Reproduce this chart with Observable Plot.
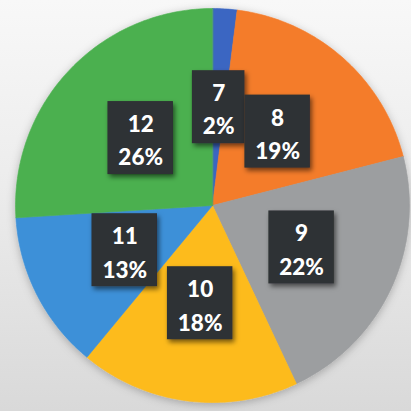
<!DOCTYPE html>
<html><head><meta charset="utf-8">
<script src="https://cdn.jsdelivr.net/npm/d3@7"></script>
<script src="https://cdn.jsdelivr.net/npm/@observablehq/plot@0.6"></script>
<style>
html,body{margin:0;padding:0;}
body{width:411px;height:411px;background:linear-gradient(#f8f8f8 0%,#ececec 45%,#d9d9d9 100%);overflow:hidden;}
</style></head><body><div id="chart"></div>
<script>
const categories = ["7","8","9","10","11","12"];
const percents = [2,19,22,18,13,26];
const colors = ["#3a66c2","#f47c2a","#9c9ea0","#fdbb1e","#3c90d8","#4cb050"];

const arcs = d3.pie().sort(null).value(d => d.value)(categories.map((c,i)=>({key:c, value:percents[i]})));
const slicePts = [];
for (const a of arcs) {
  const n = Math.max(2, Math.ceil((a.endAngle - a.startAngle) / (Math.PI/180)));
  slicePts.push({key:a.data.key, x:0, y:0});
  for (let k=0;k<=n;k++){
    const t = a.startAngle + (a.endAngle - a.startAngle) * k / n;
    slicePts.push({key:a.data.key, x:Math.sin(t), y:Math.cos(t)});
  }
}
const R = 197; // px per unit radius
const charW = ch => ch === "%" ? 19.5 : 13;
const labels = arcs.map(a => {
  const m = (a.startAngle + a.endAngle) / 2;
  const l1 = a.data.key, l2 = a.data.value + "%";
  const w = Math.max(...[l1,l2].map(s => [...s].reduce((t,c)=>t+charW(c),0))) + 20;
  return {key:l1, text:l1 + "\n" + l2, x:0.5*Math.sin(m), y:0.5*Math.cos(m), hw:w/2/R, hh:36.5/R};
});

const chart = Plot.plot({
  width: 411, height: 411,
  margin: 0,
  style: {background: "transparent", overflow: "visible"},
  x: {domain: [-212/R, 199/R], axis: null},
  y: {domain: [-206/R, 205/R], axis: null},
  color: {domain: categories, range: colors},
  marks: [
    Plot.line(slicePts, {x: "x", y: "y", z: "key", fill: "key", stroke: "key", strokeWidth: 0.6, curve: "linear-closed"}),
    Plot.rect(labels, {x1: d => d.x - d.hw, x2: d => d.x + d.hw, y1: d => d.y - d.hh, y2: d => d.y + d.hh, fill: "#2e3034"}),
    Plot.text(labels, {x: "x", y: "y", text: "text", fill: "white", fontSize: 22.5, fontWeight: 900, lineHeight: 1.48, fontFamily: "Lato, 'Open Sans', sans-serif"})
  ]
});
const svg = d3.select(chart);
const defs = svg.insert("defs", ":first-child");
const f1 = defs.append("filter").attr("id","pieShadow").attr("x","-10%").attr("y","-10%").attr("width","120%").attr("height","120%");
f1.append("feDropShadow").attr("dx",0).attr("dy",2).attr("stdDeviation",4).attr("flood-color","#000").attr("flood-opacity",0.25);
const f2 = defs.append("filter").attr("id","boxShadow").attr("x","-20%").attr("y","-20%").attr("width","150%").attr("height","150%");
f2.append("feDropShadow").attr("dx",2).attr("dy",3).attr("stdDeviation",2.5).attr("flood-color","#000").attr("flood-opacity",0.55);
svg.selectAll('g[aria-label="line"]').attr("filter","url(#pieShadow)");
svg.selectAll('g[aria-label="rect"] rect').attr("filter","url(#boxShadow)");
document.getElementById("chart").appendChild(chart);
</script></body></html>
